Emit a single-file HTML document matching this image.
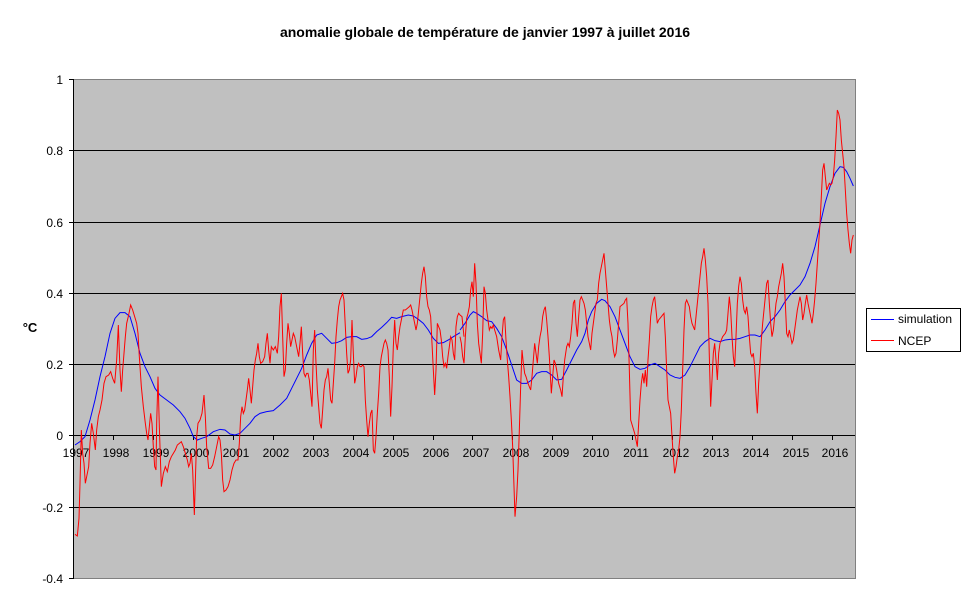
<!DOCTYPE html>
<html><head><meta charset="utf-8"><style>
body{margin:0;background:#fff;}
svg{display:block;font-family:"Liberation Sans",Arial,sans-serif;}
</style></head><body>
<svg width="970" height="604" viewBox="0 0 970 604">
<rect width="970" height="604" fill="#fff"/>
<text x="485" y="37" text-anchor="middle" font-size="14" font-weight="bold">anomalie globale de température de janvier 1997 à juillet 2016</text>
<rect x="73.5" y="79.5" width="782" height="499" fill="#c0c0c0" stroke="#808080" stroke-width="1"/>
<g stroke="#000" stroke-width="1">
<line x1="74" y1="150.5" x2="855" y2="150.5"/>
<line x1="74" y1="222.5" x2="855" y2="222.5"/>
<line x1="74" y1="293.5" x2="855" y2="293.5"/>
<line x1="74" y1="364.5" x2="855" y2="364.5"/>
<line x1="74" y1="435.5" x2="855" y2="435.5"/>
<line x1="74" y1="507.5" x2="855" y2="507.5"/>
<line x1="73.5" y1="79" x2="73.5" y2="579"/>
<line x1="69" y1="79.5" x2="74" y2="79.5"/>
<line x1="69" y1="150.5" x2="74" y2="150.5"/>
<line x1="69" y1="222.5" x2="74" y2="222.5"/>
<line x1="69" y1="293.5" x2="74" y2="293.5"/>
<line x1="69" y1="364.5" x2="74" y2="364.5"/>
<line x1="69" y1="435.5" x2="74" y2="435.5"/>
<line x1="69" y1="507.5" x2="74" y2="507.5"/>
<line x1="69" y1="578.5" x2="74" y2="578.5"/>
</g>
<g stroke="#000" stroke-width="1" id="xt"></g>
<g font-size="12" text-anchor="end">
<text x="63" y="84">1</text><text x="63" y="155">0.8</text><text x="63" y="227">0.6</text><text x="63" y="298">0.4</text><text x="63" y="369">0.2</text><text x="63" y="440">0</text><text x="63" y="512">-0.2</text><text x="63" y="583">-0.4</text>
</g>
<text x="30" y="332" font-size="13" font-weight="bold" text-anchor="middle">°C</text>
<g font-size="12" text-anchor="middle">
<text x="76" y="457">1997</text><text x="116" y="457">1998</text><text x="156" y="457">1999</text><text x="196" y="457">2000</text><text x="236" y="457">2001</text><text x="276" y="457">2002</text><text x="316" y="457">2003</text><text x="356" y="457">2004</text><text x="396" y="457">2005</text><text x="436" y="457">2006</text><text x="476" y="457">2007</text><text x="516" y="457">2008</text><text x="556" y="457">2009</text><text x="596" y="457">2010</text><text x="636" y="457">2011</text><text x="676" y="457">2012</text><text x="716" y="457">2013</text><text x="756" y="457">2014</text><text x="796" y="457">2015</text><text x="835" y="457">2016</text>
</g>
<g stroke="#000" stroke-width="1">
<line x1="113.5" y1="435" x2="113.5" y2="440"/><line x1="153.5" y1="435" x2="153.5" y2="440"/><line x1="193.5" y1="435" x2="193.5" y2="440"/><line x1="233.5" y1="435" x2="233.5" y2="440"/><line x1="273.5" y1="435" x2="273.5" y2="440"/><line x1="313.5" y1="435" x2="313.5" y2="440"/><line x1="353.5" y1="435" x2="353.5" y2="440"/><line x1="393.5" y1="435" x2="393.5" y2="440"/><line x1="433.5" y1="435" x2="433.5" y2="440"/><line x1="472.5" y1="435" x2="472.5" y2="440"/><line x1="512.5" y1="435" x2="512.5" y2="440"/><line x1="552.5" y1="435" x2="552.5" y2="440"/><line x1="592.5" y1="435" x2="592.5" y2="440"/><line x1="632.5" y1="435" x2="632.5" y2="440"/><line x1="672.5" y1="435" x2="672.5" y2="440"/><line x1="712.5" y1="435" x2="712.5" y2="440"/><line x1="752.5" y1="435" x2="752.5" y2="440"/><line x1="792.5" y1="435" x2="792.5" y2="440"/><line x1="832.5" y1="435" x2="832.5" y2="440"/>
</g>
<g transform="translate(60,70) scale(0.33333)" fill="none">
<polyline vector-effect="non-scaling-stroke" stroke="#0000ff" stroke-width="1" points="45,1125 60,1115 75,1100 90,1050 105,990 120,920 135,860 150,790 165,745 180,728 195,728 210,740 225,790 240,850 255,890 270,920 285,955 300,975 320,990 340,1005 360,1025 375,1045 390,1075 400,1100 412,1110 425,1105 440,1100 460,1085 480,1078 495,1080 510,1092 525,1095 540,1090 555,1075 570,1060 585,1040 600,1030 620,1025 640,1022 660,1005 680,985 695,955 710,925 725,895 740,855 755,820 770,795 785,790 800,805 815,820 830,818 845,812 860,802 875,800 890,800 905,808 920,806 935,800 950,785 965,772 980,758 995,742 1010,745 1025,740 1045,735 1060,738 1075,748 1090,760 1105,780 1120,805 1135,820 1150,818 1165,810 1180,800 1200,788"/>
<polyline vector-effect="non-scaling-stroke" stroke="#ff0000" stroke-width="1" points="45,1393 52,1398 57,1345 60,1240 64,1080 68,1150 72,1180 76,1240 82,1210 86,1190 90,1120 95,1060 100,1090 106,1140 110,1080 115,1040 120,1020 126,990 132,940 138,920 146,915 152,905 158,925 164,940 170,870 175,765 180,900 184,965 188,900 192,850 196,800 200,760 206,735 212,705 218,720 224,740 230,760 234,790 238,860 244,950 250,1010 256,1060 260,1090 264,1110 268,1070 272,1030 276,1060 280,1130 284,1190 288,1200 290,1060 294,920 298,1070 304,1250 310,1210 316,1190 322,1205 328,1175 334,1160 340,1150 346,1140 352,1125 358,1120 364,1115 370,1130 376,1150 382,1170 386,1190 390,1180 394,1150 398,1200 403,1335 407,1200 410,1100 414,1060 420,1050 426,1030 432,975 436,1040 440,1130 446,1195 452,1195 458,1185 464,1160 470,1130 476,1100 480,1110 484,1150 488,1230 492,1265 498,1260 504,1250 510,1230 516,1200 522,1180 528,1170 534,1170 538,1120 542,1040 546,1010 550,1030 554,1020 558,990 562,960 566,925 570,960 574,1000 578,950 582,900 586,870 590,850 594,820 598,860 602,880 608,875 614,860 618,820 622,790 626,840 630,880 634,830 640,840 646,830 652,850 656,800 660,710 664,670 668,800 672,920 676,900 680,820 684,760 688,790 692,830 696,810 700,790 704,800 708,820 712,840 716,860 720,820 724,770 728,850 732,910 736,920 740,910 744,910 748,930 752,970 756,1010 760,840 764,780 768,880 772,960 776,1010 780,1060 784,1075 788,1020 792,960 796,930 800,920 804,895 808,940 812,990 816,1000 820,940 824,880 828,800 832,750 836,710 840,690 844,680 848,670 852,690 856,770 860,850 864,910 868,900 872,870 876,750 880,850 884,940 888,920 892,890 896,880 900,890 904,890 908,885 912,890 916,990 920,1050 924,1100 928,1060 932,1030 936,1020 940,1140 944,1150 948,1100 952,1030 956,970 960,890 964,860 968,840 972,820 976,810 980,820 984,840 988,920 992,1040 996,950 1000,830 1004,750 1008,820 1012,840 1016,800 1020,770 1024,750 1030,720 1036,720 1042,715 1048,710 1052,705 1056,720 1060,740 1064,760 1068,780 1072,760 1076,720 1080,680 1084,640 1088,610 1092,590 1096,620 1100,680 1104,710 1108,720 1112,740 1116,820 1120,900 1124,975 1128,900 1132,760 1136,770 1140,780 1144,810 1148,860 1152,890 1156,880 1160,895 1164,860 1168,830 1172,800 1176,810 1180,850 1184,870 1188,770 1192,740 1196,730 1200,735 1206,740 1212,800"/>
</g>
<g transform="translate(450,70) scale(0.33333)" fill="none">
<polyline vector-effect="non-scaling-stroke" stroke="#0000ff" stroke-width="1" points="30,780 45,760 60,735 70,725 80,730 95,740 110,752 125,755 140,775 155,800 170,840 185,885 200,930 215,940 230,940 245,930 260,910 275,905 290,905 305,915 320,930 335,928 350,900 365,870 380,840 395,815 405,790 415,750 425,725 440,700 455,688 465,692 480,710 495,740 510,780 525,820 540,860 555,890 570,898 585,895 600,885 615,880 630,890 645,900 660,915 675,922 690,925 705,915 720,890 735,860 750,830 765,815 780,805 795,812 810,815 825,810 840,808 855,808 870,805 885,800 900,795 915,795 930,800 945,780 960,755 975,740 990,720 1005,695 1020,675 1035,660 1050,645 1065,620 1080,580 1095,530 1110,465 1125,400 1140,350 1155,310 1170,290 1180,292 1190,305 1200,325 1210,348"/>
<polyline vector-effect="non-scaling-stroke" stroke="#ff0000" stroke-width="1" points="30,800 34,820 38,860 42,880 46,800 50,745 54,730 58,710 62,660 66,635 70,680 74,580 78,640 82,760 86,820 90,850 94,880 98,790 102,650 106,670 110,720 114,750 118,780 122,770 126,775 130,765 134,780 140,800 146,840 152,870 156,800 160,750 164,740 168,810 172,870 176,920 180,980 184,1050 188,1130 192,1250 195,1340 200,1280 204,1200 208,1080 212,950 216,840 220,880 224,910 228,920 234,940 238,950 242,960 246,920 250,870 254,820 258,850 262,880 266,830 270,800 274,780 278,740 282,720 286,710 290,750 294,800 298,860 304,970 308,920 312,870 316,880 320,900 326,940 332,960 336,980 340,920 344,870 350,830 354,820 358,830 362,800 366,760 370,700 374,690 378,760 382,800 386,740 390,690 394,680 398,690 402,700 406,720 410,760 414,800 418,820 422,840 426,790 430,760 434,730 438,700 442,690 446,640 450,610 454,590 458,570 462,550 466,600 470,650 474,700 478,750 482,780 486,800 490,840 494,860 498,850 502,810 506,760 510,710 516,705 522,700 526,690 530,685 534,760 538,900 542,1050 548,1070 554,1090 558,1110 562,1130 566,1060 570,990 574,940 578,910 582,940 586,900 590,950 594,870 598,810 602,740 606,710 610,690 614,680 618,720 622,760 626,750 630,745 634,740 638,735 642,730 646,800 650,900 654,990 658,1010 662,1030 666,1100 670,1160 674,1210 678,1190 682,1160 686,1140 690,1100 694,1020 698,900 702,780 706,700 710,690 714,700 718,710 722,740 726,760 730,770 734,780 738,740 742,700 746,660 750,620 754,580 758,560 762,535 766,570 770,620 774,700 778,860 782,1010 786,930 790,850 794,820 798,870 802,930 806,850 810,820 814,810 818,800 822,795 826,790 830,780 834,730 838,680 842,720 846,800 850,860 854,890 858,800 862,700 866,650 870,620 874,640 878,690 882,720 886,730 890,710 894,740 898,800 902,850 906,860 910,850 914,890 918,970 922,1030 926,940 930,880 934,810 938,760 942,720 946,680 950,640 954,630 958,700 962,760 966,800 970,780 974,740 978,700 982,680 986,650 990,630 994,610 998,580 1002,620 1006,700 1010,790 1014,800 1018,780 1022,800 1026,820 1030,810 1034,780 1038,750 1042,720 1046,700 1050,680 1054,700 1058,750 1062,730 1066,700 1070,675 1074,700 1078,720 1082,740 1086,760 1090,730 1094,690 1098,640 1102,580 1106,520 1110,460 1114,380 1118,300 1122,280 1126,320 1130,360 1134,350 1138,340 1142,345 1146,340 1150,320 1154,270 1158,200 1162,120 1166,130 1170,150 1174,210 1178,250 1182,290 1186,360 1190,430 1194,480 1198,520 1202,550 1206,510 1210,495"/>
</g>
<rect x="866.5" y="308.5" width="94" height="43" fill="#fff" stroke="#000" stroke-width="1"/>
<line x1="871" y1="319.5" x2="894" y2="319.5" stroke="#0000ff" stroke-width="1"/>
<line x1="871" y1="340.5" x2="894" y2="340.5" stroke="#ff0000" stroke-width="1"/>
<text x="898" y="323" font-size="12">simulation</text>
<text x="898" y="345" font-size="12">NCEP</text>
</svg>
</body></html>
